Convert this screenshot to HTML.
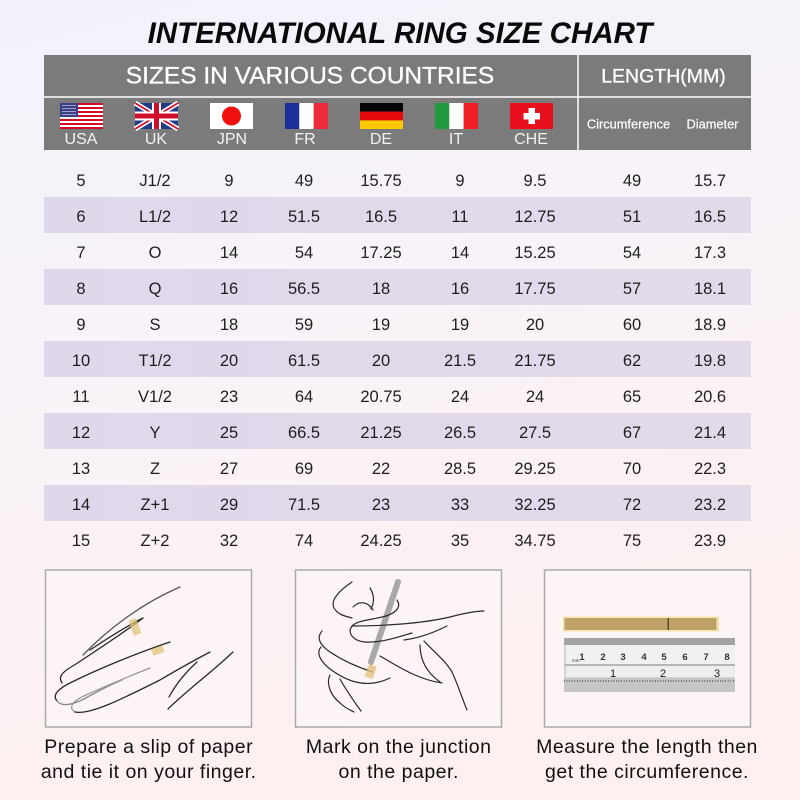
<!DOCTYPE html>
<html><head><meta charset="utf-8"><style>
html,body{margin:0;padding:0;}
body{width:800px;height:800px;overflow:hidden;}
svg{display:block;font-family:"Liberation Sans",Arial,sans-serif;}
</style></head><body>
<svg width="800" height="800" viewBox="0 0 800 800" xmlns="http://www.w3.org/2000/svg">
<defs>
<linearGradient id="bg" x1="0" y1="0" x2="0.25" y2="1">
<stop offset="0" stop-color="#f3f1fa"/>
<stop offset="0.45" stop-color="#f8f3f8"/>
<stop offset="1" stop-color="#fdf0ef"/>
</linearGradient>
<linearGradient id="row" x1="0" y1="0" x2="1" y2="0">
<stop offset="0" stop-color="#dfd8eb"/>
<stop offset="1" stop-color="#e3dae9"/>
</linearGradient>
<pattern id="mmT" x="564" y="0" width="2.07" height="10" patternUnits="userSpaceOnUse">
<rect x="0" y="0" width="0.6" height="3" fill="#666"/>
</pattern>
<pattern id="mmB" x="564" y="0" width="2.6" height="10" patternUnits="userSpaceOnUse">
<rect x="0" y="0" width="0.7" height="4" fill="#555"/>
</pattern>
</defs>
<rect width="800" height="800" fill="url(#bg)"/>

<!-- Title -->
<text x="400" y="43" text-anchor="middle" font-size="29.5" font-weight="bold" font-style="italic" fill="#0a0a0a">INTERNATIONAL RING SIZE CHART</text>

<!-- Header -->
<rect x="44" y="55" width="707" height="95" fill="#7b7b7b"/>
<line x1="44" y1="97" x2="751" y2="97" stroke="#ffffff" stroke-width="1.5"/>
<line x1="578" y1="55" x2="578" y2="150" stroke="#ffffff" stroke-width="1.5"/>
<text x="310" y="83.5" text-anchor="middle" font-size="24.5" fill="#ffffff" stroke="#ffffff" stroke-width="0.35">SIZES IN VARIOUS COUNTRIES</text>
<text x="663.5" y="82.7" text-anchor="middle" font-size="19.5" fill="#ffffff" stroke="#ffffff" stroke-width="0.3">LENGTH(MM)</text>
<text x="628.5" y="128.5" text-anchor="middle" font-size="12.8" fill="#ffffff" stroke="#ffffff" stroke-width="0.2">Circumference</text>
<text x="712.5" y="128.5" text-anchor="middle" font-size="12.8" fill="#ffffff" stroke="#ffffff" stroke-width="0.2">Diameter</text>

<!-- Flags -->
<g transform="translate(60,103)">
<rect width="43" height="26" fill="#ffffff"/>
<g fill="#d0102b">
<rect y="0" width="43" height="2"/><rect y="4" width="43" height="2"/><rect y="8" width="43" height="2"/><rect y="12" width="43" height="2"/><rect y="16" width="43" height="2"/><rect y="20" width="43" height="2"/><rect y="24" width="43" height="2"/>
</g>
<rect width="18" height="14" fill="#3b3f86"/>
<g fill="#c9cbe6" opacity="0.7">
<rect x="2" y="2" width="14" height="1"/><rect x="2" y="5" width="14" height="1"/><rect x="2" y="8" width="14" height="1"/><rect x="2" y="11" width="14" height="1"/>
</g>
</g>
<g transform="translate(135,103)">
<rect width="43" height="26" fill="#1f3a8a"/>
<path d="M0,0 L43,26 M43,0 L0,26" stroke="#ffffff" stroke-width="5"/>
<path d="M0,0 L43,26 M43,0 L0,26" stroke="#d0102b" stroke-width="1.8"/>
<rect x="17" y="0" width="9" height="26" fill="#ffffff"/>
<rect x="0" y="8.5" width="43" height="9" fill="#ffffff"/>
<rect x="19" y="0" width="5" height="26" fill="#d0102b"/>
<rect x="0" y="10.5" width="43" height="5" fill="#d0102b"/>
</g>
<g transform="translate(210,103)">
<rect width="43" height="26" fill="#ffffff"/>
<circle cx="21.5" cy="13" r="9.5" fill="#f20f10"/>
</g>
<g transform="translate(285,103)">
<rect width="14.3" height="26" fill="#1a2f9a"/>
<rect x="14.3" width="14.4" height="26" fill="#ffffff"/>
<rect x="28.7" width="14.3" height="26" fill="#ec2c3c"/>
</g>
<g transform="translate(360,103)">
<rect width="43" height="8.7" fill="#050505"/>
<rect y="8.7" width="43" height="8.7" fill="#e50a0a"/>
<rect y="17.4" width="43" height="8.6" fill="#fdc800"/>
</g>
<g transform="translate(435,103)">
<rect width="14.3" height="26" fill="#219a3f"/>
<rect x="14.3" width="14.4" height="26" fill="#ffffff"/>
<rect x="28.7" width="14.3" height="26" fill="#f01e25"/>
</g>
<g transform="translate(510,103)">
<rect width="43" height="26" fill="#e8101c"/>
<rect x="18.5" y="5" width="6.5" height="16" fill="#ffffff"/>
<rect x="13.5" y="10" width="16.5" height="6.5" fill="#ffffff"/>
</g>

<g font-size="16" fill="#f2f2f2" text-anchor="middle">
<text x="81" y="144">USA</text>
<text x="156" y="144">UK</text>
<text x="232" y="144">JPN</text>
<text x="305" y="144">FR</text>
<text x="381" y="144">DE</text>
<text x="456" y="144">IT</text>
<text x="531" y="144">CHE</text>
</g>

<!-- Shaded rows -->
<g fill="url(#row)">
<rect x="44" y="197" width="707" height="36"/>
<rect x="44" y="269" width="707" height="36"/>
<rect x="44" y="341" width="707" height="36"/>
<rect x="44" y="413" width="707" height="36"/>
<rect x="44" y="485" width="707" height="36"/>
</g>

<!-- Data -->
<g font-size="16.5" fill="#1e1e1e" text-anchor="middle">
<g transform="translate(0,186)"><text x="81">5</text><text x="155">J1/2</text><text x="229">9</text><text x="304">49</text><text x="381">15.75</text><text x="460">9</text><text x="535">9.5</text><text x="632">49</text><text x="710">15.7</text></g>
<g transform="translate(0,222)"><text x="81">6</text><text x="155">L1/2</text><text x="229">12</text><text x="304">51.5</text><text x="381">16.5</text><text x="460">11</text><text x="535">12.75</text><text x="632">51</text><text x="710">16.5</text></g>
<g transform="translate(0,258)"><text x="81">7</text><text x="155">O</text><text x="229">14</text><text x="304">54</text><text x="381">17.25</text><text x="460">14</text><text x="535">15.25</text><text x="632">54</text><text x="710">17.3</text></g>
<g transform="translate(0,294)"><text x="81">8</text><text x="155">Q</text><text x="229">16</text><text x="304">56.5</text><text x="381">18</text><text x="460">16</text><text x="535">17.75</text><text x="632">57</text><text x="710">18.1</text></g>
<g transform="translate(0,330)"><text x="81">9</text><text x="155">S</text><text x="229">18</text><text x="304">59</text><text x="381">19</text><text x="460">19</text><text x="535">20</text><text x="632">60</text><text x="710">18.9</text></g>
<g transform="translate(0,366)"><text x="81">10</text><text x="155">T1/2</text><text x="229">20</text><text x="304">61.5</text><text x="381">20</text><text x="460">21.5</text><text x="535">21.75</text><text x="632">62</text><text x="710">19.8</text></g>
<g transform="translate(0,402)"><text x="81">11</text><text x="155">V1/2</text><text x="229">23</text><text x="304">64</text><text x="381">20.75</text><text x="460">24</text><text x="535">24</text><text x="632">65</text><text x="710">20.6</text></g>
<g transform="translate(0,438)"><text x="81">12</text><text x="155">Y</text><text x="229">25</text><text x="304">66.5</text><text x="381">21.25</text><text x="460">26.5</text><text x="535">27.5</text><text x="632">67</text><text x="710">21.4</text></g>
<g transform="translate(0,474)"><text x="81">13</text><text x="155">Z</text><text x="229">27</text><text x="304">69</text><text x="381">22</text><text x="460">28.5</text><text x="535">29.25</text><text x="632">70</text><text x="710">22.3</text></g>
<g transform="translate(0,510)"><text x="81">14</text><text x="155">Z+1</text><text x="229">29</text><text x="304">71.5</text><text x="381">23</text><text x="460">33</text><text x="535">32.25</text><text x="632">72</text><text x="710">23.2</text></g>
<g transform="translate(0,546)"><text x="81">15</text><text x="155">Z+2</text><text x="229">32</text><text x="304">74</text><text x="381">24.25</text><text x="460">35</text><text x="535">34.75</text><text x="632">75</text><text x="710">23.9</text></g>
</g>

<!-- Boxes -->
<g fill="#fdf5f5" stroke="#aaaaaa" stroke-width="1.5">
<rect x="45.5" y="570" width="206" height="157"/>
<rect x="295.5" y="570" width="206" height="157"/>
<rect x="544.5" y="570" width="206" height="157"/>
</g>

<!-- Sketch 1 -->
<g fill="none" stroke="#2a2a2a" stroke-width="1.3" stroke-linecap="round">
<path d="M83,655 C105,632 140,604 180,587" stroke="#555"/>
<path d="M90,650 C105,640 125,627 143,618"/>
<path d="M62,683 C57,676 64,671 76,664 C100,648 125,632 143,618"/>
<path d="M57,701 C52,695 58,689 70,683 C100,668 140,652 170,642"/>
<path d="M57,701 C62,707 72,705 84,699 C100,690 112,684 122,680" stroke="#888"/>
<path d="M75,712 C68,708 72,701 86,695 C110,684 130,676 150,668" stroke="#999"/>
<path d="M75,712 C90,715 120,700 160,680 C180,668 195,660 210,652"/>
<path d="M168,709 C185,692 212,672 233,652"/>
<path d="M169,697 C176,684 186,672 197,662"/>
</g>
<g>
<rect x="131" y="619" width="8" height="16" fill="#e2c27a" opacity="0.75" transform="rotate(-20 135 627)"/>
<rect x="152" y="647" width="12" height="7" fill="#e2c27a" opacity="0.75" transform="rotate(-20 158 651)"/>
</g>

<!-- Sketch 2 -->
<path d="M398,582 L371,662" stroke="#a8a8a8" stroke-width="6" stroke-linecap="round" fill="none"/>
<g fill="none" stroke="#2a2a2a" stroke-width="1.2" stroke-linecap="round">
<path d="M352,582 C340,590 330,600 334,608 C338,615 345,616 352,618"/>
<path d="M370,588 C375,596 374,603 371,609"/>
<path d="M353,607 C360,600 368,602 373,610"/>
<path d="M397,600 C401,606 398,612 386,616 C372,620 358,620 352,626 C347,633 353,641 365,642 C380,643 395,638 412,633"/>
<path d="M352,626 C380,626 420,624 450,617 C465,613 475,611 484,611"/>
<path d="M404,640 C420,638 435,632 447,626"/>
<path d="M322,631 C316,638 320,645 330,652 C345,662 360,668 373,672"/>
<path d="M321,647 C316,653 320,661 330,669 C345,680 365,690 390,678"/>
<path d="M330,675 C326,683 330,695 340,703 C345,708 350,710 354,712"/>
<path d="M340,679 C346,690 353,700 361,711"/>
<path d="M424,641 C432,650 445,660 452,672 C458,685 462,698 467,710"/>
<path d="M420,645 C420,660 426,672 440,682"/>
<path d="M380,656 C400,668 420,680 442,683"/>
</g>
<rect x="367" y="665" width="8" height="13" fill="#e2c27a" opacity="0.8" transform="rotate(20 371 671)"/>

<!-- Sketch 3: paper strip and ruler -->
<rect x="563" y="616.5" width="156" height="15" fill="#f7e4ad"/>
<rect x="564.5" y="618" width="152" height="12" fill="#bda169"/>
<rect x="667.5" y="618" width="1.5" height="12" fill="#5b4a2a"/>

<rect x="564" y="638" width="171" height="54" fill="#d4d4d4"/>
<rect x="564" y="638" width="171" height="7" fill="#a3a3a3"/>
<rect x="566" y="645" width="169" height="19" fill="#f1f1f1"/>
<rect x="566" y="645" width="169" height="3.5" fill="url(#mmT)"/>
<line x1="564" y1="665" x2="735" y2="665" stroke="#9a9a9a" stroke-width="1"/>
<rect x="566" y="666" width="169" height="11" fill="#eeeeee"/>
<rect x="564" y="678" width="171" height="14" fill="#c6c6c6"/>
<rect x="564" y="678" width="171" height="4" fill="url(#mmB)"/>
<g font-size="9.5" fill="#333" text-anchor="middle" font-weight="bold">
<text x="582" y="660">1</text><text x="603" y="660">2</text><text x="623" y="660">3</text><text x="644" y="660">4</text><text x="664" y="660">5</text><text x="685" y="660">6</text><text x="706" y="660">7</text><text x="727" y="660">8</text>
</g>
<text x="572" y="662" font-size="4.5" fill="#333">mm</text>
<g font-size="11" fill="#222" text-anchor="middle">
<text x="613" y="677">1</text><text x="663" y="677">2</text><text x="717" y="677">3</text>
</g>

<!-- Captions -->
<g font-size="19.5" fill="#111" text-anchor="middle" letter-spacing="0.5">
<text x="148.7" y="753">Prepare a slip of paper</text>
<text x="148.7" y="778">and tie it on your finger.</text>
<text x="398.7" y="753">Mark on the junction</text>
<text x="398.7" y="778">on the paper.</text>
<text x="647" y="753">Measure the length then</text>
<text x="647" y="778">get the circumference.</text>
</g>
</svg>
</body></html>
